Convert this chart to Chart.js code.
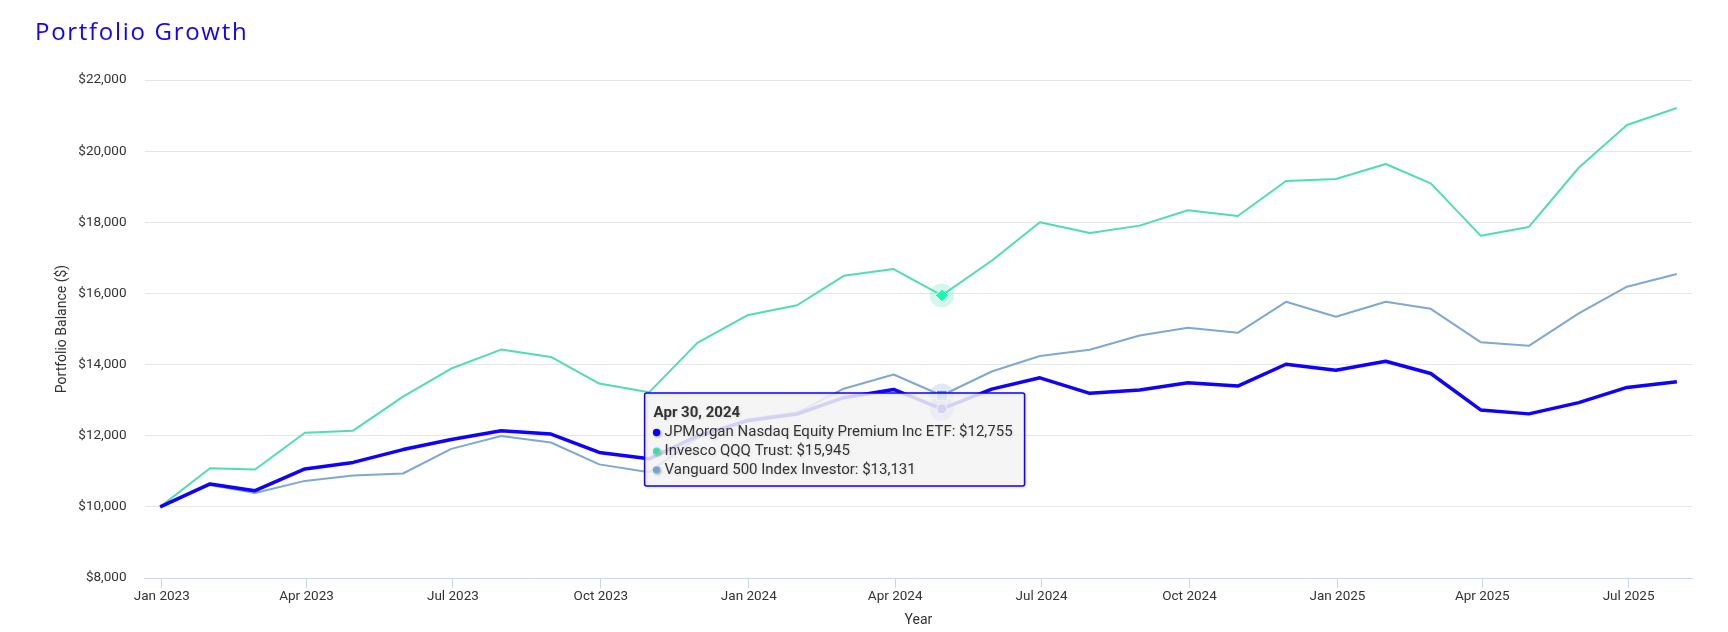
<!DOCTYPE html>
<html>
<head>
<meta charset="utf-8">
<title>Portfolio Growth</title>
<script src="https://cdn.jsdelivr.net/npm/chart.js@4.4.1/dist/chart.umd.min.js"></script>
<style>
  html, body { margin: 0; padding: 0; background: #fff; }
  #wrap { position: relative; width: 1728px; height: 632px; }
  #wrap h1 {
    position: absolute; left: 35px; top: 15px; margin: 0;
    font: 500 24px/32px "Open Sans", sans-serif; letter-spacing: 1.7px; color: #1500ff;
  }
  #growthChart { position: absolute; left: 0; top: 0; }
</style>
</head>
<body>
<div id="wrap">
  <canvas id="growthChart" width="1728" height="632"></canvas>
  <h1>Portfolio Growth</h1>
</div>
<script>
// month-end dates of the balance series
const dates = [
  "2022-12-31", "2023-01-31", "2023-02-28", "2023-03-31", "2023-04-30", "2023-05-31",
  "2023-06-30", "2023-07-31", "2023-08-31", "2023-09-30", "2023-10-31", "2023-11-30",
  "2023-12-31", "2024-01-31", "2024-02-29", "2024-03-31", "2024-04-30", "2024-05-31",
  "2024-06-30", "2024-07-31", "2024-08-31", "2024-09-30", "2024-10-31", "2024-11-30",
  "2024-12-31", "2025-01-31", "2025-02-28", "2025-03-31", "2025-04-30", "2025-05-31",
  "2025-06-30", "2025-07-31"
];

const seriesNames = [
  "JPMorgan Nasdaq Equity Premium Inc ETF",
  "Invesco QQQ Trust",
  "Vanguard 500 Index Investor"
];

const jpmValues = [
  10000, 10645, 10455, 11065, 11250, 11610, 11895, 12140, 12045, 11530, 11350, 11990,
  12420, 12610, 13070, 13302, 12755, 13310, 13628, 13191, 13284, 13488, 13395, 14009,
  13842, 14093, 13749, 12726, 12614, 12930, 13358, 13516
];

const qqqValues = [
  10000, 11087, 11049, 12085, 12141, 13101, 13888, 14422, 14215, 13466, 13219, 14609,
  15386, 15667, 16496, 16684, 15945, 16918, 18000, 17700, 17906, 18337, 18178, 19162,
  19219, 19638, 19095, 17624, 17869, 19533, 20734, 21211
];

const vanguardValues = [
  10000, 10617, 10389, 10730, 10882, 10938, 11630, 11991, 11810, 11194, 10976, 11940,
  12460, 12650, 13321, 13721, 13131, 13805, 14242, 14419, 14819, 15033, 14892, 15765,
  15343, 15765, 15568, 14629, 14526, 15437, 16188, 16545
];

const tickDates = [
  "2023-01-01", "2023-04-01", "2023-07-01", "2023-10-01",
  "2024-01-01", "2024-04-01", "2024-07-01", "2024-10-01",
  "2025-01-01", "2025-04-01", "2025-07-01"
];

const colors = ["#1000ff", "#4fdfae", "#7fa8d2"];
const hoverIndex = 16; // Apr 30, 2024

const monthNames = ["Jan", "Feb", "Mar", "Apr", "May", "Jun", "Jul", "Aug", "Sep", "Oct", "Nov", "Dec"];

function toPoints(values) {
  return dates.map(function (d, i) {
    return { x: Date.parse(d), y: values[i] };
  });
}

function fmtMonth(t) {
  const d = new Date(t);
  return monthNames[d.getUTCMonth()] + " " + d.getUTCFullYear();
}

function fmtDay(t) {
  const d = new Date(t);
  return monthNames[d.getUTCMonth()] + " " + d.getUTCDate() + ", " + d.getUTCFullYear();
}

function money(v) {
  return "$" + Math.round(v).toLocaleString("en-US");
}

const firstT = Date.parse(dates[0]);
const lastT = Date.parse(dates[dates.length - 1]);
const pad = (lastT - firstT) * 0.01;

Chart.defaults.font.family = "Roboto, 'Noto Sans', sans-serif";
Chart.defaults.color = "#333";

Chart.Tooltip.positioners.fixedBox = function (items, eventPosition) {
  return { x: eventPosition.x, y: eventPosition.y, xAlign: "left", yAlign: "top" };
};

// soft circle behind the hovered points
const haloPlugin = {
  id: "halo",
  beforeDatasetsDraw(chart) {
    const ctx = chart.ctx;
    chart.getActiveElements().forEach(function (a) {
      ctx.save();
      ctx.globalAlpha = 0.25;
      ctx.fillStyle = colors[a.datasetIndex];
      ctx.beginPath();
      ctx.arc(a.element.x, a.element.y, 12, 0, Math.PI * 2);
      ctx.fill();
      ctx.restore();
    });
  }
};

const tipShadow = {
  id: "tipShadow",
  beforeTooltipDraw(chart) {
    const c = chart.ctx;
    c.save();
    c.shadowColor = "rgba(0,0,0,0.12)";
    c.shadowBlur = 3;
    c.shadowOffsetX = 1;
    c.shadowOffsetY = 1;
  },
  afterTooltipDraw(chart) {
    chart.ctx.restore();
  }
};

const ctx = document.getElementById("growthChart").getContext("2d");

const growthChart = new Chart(ctx, {
  type: "line",
  data: {
    datasets: [
      {
        label: seriesNames[0],
        data: toPoints(jpmValues),
        borderColor: colors[0],
        backgroundColor: colors[0],
        borderWidth: 3.5,
        pointRadius: 0,
        pointStyle: "circle",
        pointHoverRadius: 5,
        pointHoverBorderWidth: 1,
        pointHoverBorderColor: "#ffffff",
      },
      {
        label: seriesNames[1],
        data: toPoints(qqqValues),
        borderColor: colors[1],
        backgroundColor: colors[1],
        borderWidth: 2,
        pointRadius: 0,
        pointStyle: "rectRot",
        pointHoverRadius: 6.5,
        pointHoverBorderWidth: 1,
        pointHoverBorderColor: "#ffffff",
      },
      {
        label: seriesNames[2],
        data: toPoints(vanguardValues),
        borderColor: colors[2],
        backgroundColor: colors[2],
        borderWidth: 2,
        pointRadius: 0,
        pointStyle: "rect",
        pointHoverRadius: 7.5,
        pointHoverBorderWidth: 1,
        pointHoverBorderColor: "#ffffff",
      },
    ],
  },
  options: {
    responsive: false,
    animation: false,
    layout: { padding: { top: 80, right: 36, bottom: 0, left: 52 } },
    interaction: { mode: "index", intersect: false },
    elements: { line: { tension: 0, borderJoinStyle: "round" } },
    plugins: {
      legend: { display: false },
      tooltip: {
        position: "fixedBox",
        backgroundColor: "rgba(247,247,247,0.85)",
        borderColor: colors[0],
        borderWidth: 1.5,
        cornerRadius: 2,
        caretSize: 0,
        caretPadding: 0,
        padding: { top: 11.5, bottom: 7, left: 9, right: 12 },
        titleColor: "#333",
        bodyColor: "#333",
        titleFont: { size: 15, weight: "bold" },
        bodyFont: { size: 15 },
        titleMarginBottom: 1,
        bodySpacing: 0.7,
        usePointStyle: true,
        boxWidth: 6,
        boxHeight: 6,
        boxPadding: 3,
        callbacks: {
          title: function (items) {
            return fmtDay(items[0].parsed.x);
          },
          label: function (item) {
            return item.dataset.label + ": " + money(item.parsed.y);
          },
          labelColor: function (item) {
            const c = colors[item.datasetIndex];
            return { borderColor: c, backgroundColor: c, borderWidth: 0 };
          },
          labelPointStyle: function () {
            return { pointStyle: "circle", rotation: 0 };
          },
        },
      },
    },
    scales: {
      x: {
        type: "linear",
        min: firstT - pad,
        max: lastT + pad,
        afterBuildTicks: function (axis) {
          axis.ticks = tickDates.map(function (d) {
            return { value: Date.parse(d) };
          });
        },
        ticks: {
          callback: function (v) {
            return fmtMonth(v);
          },
          autoSkip: false,
          maxRotation: 0,
          padding: 1,
          font: { size: 13.5 },
          color: "#333",
        },
        grid: { drawOnChartArea: false, color: "#ccd6eb", tickLength: 10 },
        border: { color: "#ccd6eb" },
        title: {
          display: true,
          text: "Year",
          color: "#333",
          font: { size: 14 },
          padding: { top: 6, bottom: 3 },
        },
      },
      y: {
        min: 8000,
        max: 22000,
        ticks: {
          stepSize: 2000,
          callback: function (v) {
            return money(v);
          },
          padding: 18.5,
          font: { size: 13.5 },
          color: "#333",
        },
        grid: {
          drawTicks: false,
          color: function (c) {
            return c.tick && c.tick.value === 8000 ? "rgba(0,0,0,0)" : "#e6e6e6";
          },
        },
        border: { display: false },
        title: {
          display: true,
          text: "Portfolio Balance ($)",
          color: "#333",
          font: { size: 14 },
          padding: { top: 2, bottom: -11 },
        },
      },
    },
  },
  plugins: [haloPlugin, tipShadow],
});

const active = [0, 1, 2].map(function (i) {
  return { datasetIndex: i, index: hoverIndex };
});
growthChart.setActiveElements(active);
growthChart.tooltip.setActiveElements(active, { x: 646.6, y: 393 });
growthChart.update("none");
</script>
</body>
</html>
